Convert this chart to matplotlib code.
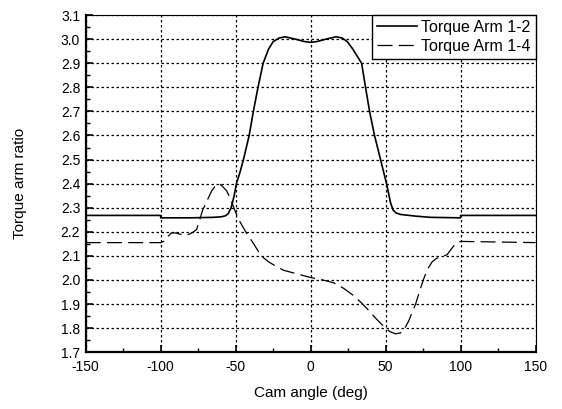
import matplotlib
matplotlib.use("Agg")
import matplotlib.pyplot as plt
from matplotlib.ticker import MultipleLocator

plt.rcParams['font.family'] = ['Liberation Sans', 'DejaVu Sans']

# Torque Arm 1-2 (solid)
x12 = [-150, -100, -100, -80, -65, -60, -57, -55, -53, -51, -49.5, -47, -44.8, -41, -38.2,
       -35.1, -31.7, -28, -25, -21, -17, -10, -4, 0, 4, 10, 17, 21, 24.4, 28, 31, 34,
       36.6, 39.3, 42.6, 46.6, 50.6, 53.3, 55, 57, 60, 70, 80, 100, 100, 150]
y12 = [2.268, 2.268, 2.258, 2.258, 2.26, 2.262, 2.266, 2.275, 2.30, 2.35, 2.40, 2.45, 2.50,
       2.60, 2.70, 2.80, 2.90, 2.96, 2.99, 3.005, 3.01, 3.0, 2.99, 2.987, 2.99, 3.0, 3.01,
       3.005, 2.99, 2.96, 2.93, 2.90, 2.80, 2.70, 2.60, 2.50, 2.40, 2.32, 2.29, 2.278,
       2.272, 2.265, 2.26, 2.258, 2.268, 2.268]

# Torque Arm 1-4 (dashed)
x14 = [-150, -100, -98, -96, -93, -90, -87, -84, -81, -78, -76, -74, -72, -69, -66, -63,
       -61, -59, -56, -53, -50, -47, -43.3, -38, -33, -28, -24, -18, -12, -6, 0, 8, 15.5,
       22, 28.8, 33, 37.7, 42, 46.6, 50.6, 53, 56.6, 60, 62, 65.4, 68, 70, 73, 75.4, 78,
       81, 84, 86.6, 89, 91, 94, 96.5, 100, 150]
y14 = [2.155, 2.155, 2.16, 2.175, 2.195, 2.195, 2.19, 2.185, 2.19, 2.20, 2.21, 2.25, 2.29,
       2.33, 2.37, 2.395, 2.40, 2.39, 2.37, 2.33, 2.28, 2.24, 2.20, 2.15, 2.10, 2.075,
       2.06, 2.04, 2.03, 2.02, 2.01, 2.0, 1.988, 1.965, 1.934, 1.91, 1.88, 1.85, 1.82,
       1.797, 1.785, 1.776, 1.78, 1.79, 1.83, 1.87, 1.90, 1.96, 2.005, 2.045, 2.075,
       2.09, 2.095, 2.10, 2.105, 2.13, 2.15, 2.16, 2.155]

xticks = [-150, -100, -50, 0, 50, 100, 150]
yticks = [1.7, 1.8, 1.9, 2.0, 2.1, 2.2, 2.3, 2.4, 2.5, 2.6, 2.7, 2.8, 2.9, 3.0, 3.1]

fig = plt.figure(figsize=(5.62, 4.09), dpi=100)
ax = fig.add_axes([0.1525, 0.139, 0.8005, 0.824])

ax.plot(x12, y12, color='black', lw=1.2, label='Torque Arm 1-2')
ax.plot(x14, y14, color='black', lw=0.9, dashes=(12, 5), label='Torque Arm 1-4')

ax.set_xlim(-150, 150)
ax.set_ylim(1.7, 3.1)
ax.set_xticks(xticks)
ax.set_yticks(yticks)
ax.set_xticklabels([str(v) for v in xticks])
ax.set_yticklabels([f"{v:.1f}" for v in yticks])
ax.xaxis.set_minor_locator(MultipleLocator(25))
ax.yaxis.set_minor_locator(MultipleLocator(0.05))

ax.grid(True, which='major', color='black', linestyle=(0, (2, 2)), lw=0.9)
ax.tick_params(which='major', direction='in', length=5, width=1.2, labelsize=10,
               top=False, right=False)
ax.tick_params(axis='x', which='major', pad=6)
ax.tick_params(axis='y', which='major', pad=4)
ax.tick_params(which='minor', direction='in', length=3, width=1.0, top=False, right=False)

for s in ['left', 'bottom']:
    ax.spines[s].set_linewidth(1.6)
for s in ['top', 'right']:
    ax.spines[s].set_linewidth(0.8)

ax.set_xlabel('Cam angle (deg)', fontsize=11, labelpad=8)
ax.set_ylabel('Torque arm ratio', fontsize=11, labelpad=24)

leg = ax.legend(loc='upper right', fontsize=11.5, frameon=True, fancybox=False,
                edgecolor='black', framealpha=1, borderpad=0.3, labelspacing=0.25,
                handlelength=2.5, handletextpad=0.3, borderaxespad=0.0)
leg.get_frame().set_linewidth(1.0)

fig.savefig('out.png', dpi=100)
